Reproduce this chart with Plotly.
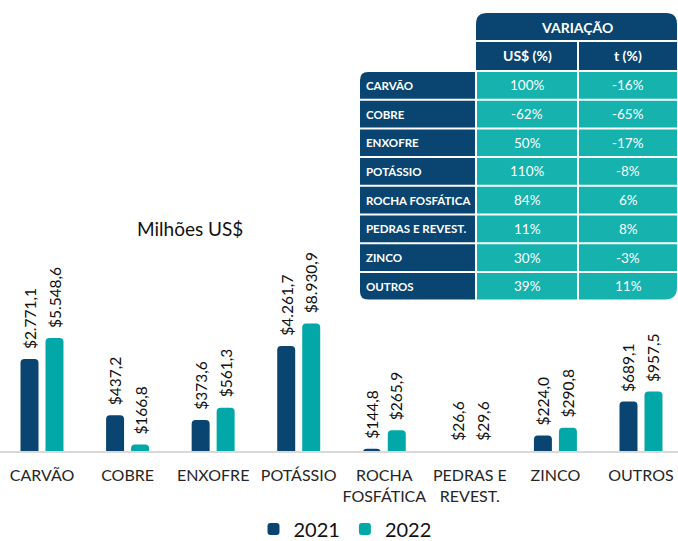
import math
import plotly.graph_objects as go

# ---------------- data ----------------
categories = ["CARVÃO", "COBRE", "ENXOFRE", "POTÁSSIO", "ROCHA<br>FOSFÁTICA",
              "PEDRAS E<br>REVEST.", "ZINCO", "OUTROS"]
values_2021 = [2771.1, 437.2, 373.6, 4261.7, 144.8, 26.6, 224.0, 689.1]
values_2022 = [5548.6, 166.8, 561.3, 8930.9, 265.9, 29.6, 290.8, 957.5]
series_names = ["2021", "2022"]

table_rows = ["CARVÃO", "COBRE", "ENXOFRE", "POTÁSSIO", "ROCHA FOSFÁTICA",
              "PEDRAS E REVEST.", "ZINCO", "OUTROS"]
table_header = "VARIAÇÃO"
table_columns = ["US$ (%)", "t (%)"]
var_usd = ["100%", "-62%", "50%", "110%", "84%", "11%", "30%", "39%"]
var_t = ["-16%", "-65%", "-17%", "-8%", "6%", "8%", "-3%", "11%"]

unit_title = "Milhões US$"

# ---------------- style ----------------
DARK = "#0a4572"
TEAL = "#02a8a8"
TEAL_TBL = "#15b2ae"
FONT = "Lato, Carlito, 'Open Sans', sans-serif"
OFF = 0                      # page body margin (removed by post_script)
W, H = 678, 541              # figure size
AXIS_Y = 451                 # axis line position in window pixels
MB = H + OFF - AXIS_Y
PLOT_H = H - MB
Y_LOW = 2.13
PX_PER_DECADE = 70.0


def fmt(v):
    s = f"{v:,.1f}"
    s = s.replace(",", "X").replace(".", ",").replace("X", ".")
    return "$" + s


fig = go.Figure()
for name, vals, col in [(series_names[0], values_2021, DARK), (series_names[1], values_2022, TEAL)]:
    fig.add_trace(go.Bar(
        x=categories, y=vals, name=name,
        marker=dict(color=col, cornerradius=4, line=dict(width=0)),
        hoverinfo="x+y",
    ))

annotations = []
for vals, shift in [(values_2021, -12.5), (values_2022, 12.5)]:
    for c, v in zip(categories, vals):
        annotations.append(dict(
            x=c, y=math.log10(max(v, 10 ** Y_LOW)), xref="x", yref="y",
            text=fmt(v), textangle=-90, showarrow=False,
            xanchor="center", yanchor="bottom", xshift=shift, yshift=8,
            font=dict(family=FONT, size=15.5, color="#111111"),
        ))


# window pixel -> paper coordinates
def PX(x):
    return (x - OFF) / W


def PY(y):
    return (AXIS_Y - y) / PLOT_H


annotations.append(dict(
    x=PX(190), y=PY(228), xref="paper", yref="paper",
    text=unit_title, showarrow=False, xanchor="center", yanchor="middle",
    font=dict(family=FONT, size=19, color="#111111"),
))


# ---------------- table (layout decoration) ----------------
def P(x, y):
    return f"{PX(x):.5f},{PY(y):.5f}"


def rr_path(x0, y0, x1, y1, tl=0, tr=0, br=0, bl=0):
    return (f"M {P(x0 + tl, y0)} L {P(x1 - tr, y0)} Q {P(x1, y0)} {P(x1, y0 + tr)} "
            f"L {P(x1, y1 - br)} Q {P(x1, y1)} {P(x1 - br, y1)} "
            f"L {P(x0 + bl, y1)} Q {P(x0, y1)} {P(x0, y1 - bl)} "
            f"L {P(x0, y0 + tl)} Q {P(x0, y0)} {P(x0 + tl, y0)} Z")


shapes = []


def cell(x0, y0, x1, y1, color, **r):
    shapes.append(dict(type="path", path=rr_path(x0, y0, x1, y1, **r),
                       xref="paper", yref="paper", fillcolor=color,
                       line=dict(width=0), layer="above"))


def text(x, y, s, size, bold=False, anchor="center"):
    annotations.append(dict(
        x=PX(x), y=PY(y), xref="paper", yref="paper",
        text=f"<b>{s}</b>" if bold else s, showarrow=False,
        xanchor=anchor, yanchor="middle",
        font=dict(family=FONT, size=size, color="white"),
    ))


LBL_L, LBL_R = 360, 475
C1_L, C1_R = 477, 577
C2_L, C2_R = 579, 677
HDR_T, HDR_B = 13, 40
SUB_T, SUB_B = 42, 70
ROW_T, ROW_H, GAP = 72, 28.7, 2

cell(C1_L - 1, HDR_T, C2_R, HDR_B, DARK, tl=11, tr=11)
text((C1_L + C2_R) / 2, (HDR_T + HDR_B) / 2 + 1, table_header, 14, bold=True)
cell(C1_L - 1, SUB_T, C1_R, SUB_B, DARK)
cell(C2_L, SUB_T, C2_R, SUB_B, DARK)
text((C1_L + C1_R) / 2, (SUB_T + SUB_B) / 2, table_columns[0], 14, bold=True)
text((C2_L + C2_R) / 2, (SUB_T + SUB_B) / 2, table_columns[1], 14, bold=True)

n = len(table_rows)
for i, (lab, u, t) in enumerate(zip(table_rows, var_usd, var_t)):
    y0 = ROW_T + i * ROW_H
    y1 = y0 + ROW_H - GAP
    first, last = i == 0, i == n - 1
    cell(LBL_L, y0, LBL_R, y1, DARK, tl=8 if first else 0, bl=8 if last else 0)
    cell(C1_L, y0, C1_R, y1, TEAL_TBL)
    cell(C2_L, y0, C2_R, y1, TEAL_TBL, br=12 if last else 0)
    ym = (y0 + y1) / 2
    text(LBL_L + 4, ym, lab, 11.5, bold=True, anchor="left")
    text((C1_L + C1_R) / 2, ym, u, 13.5)
    text((C2_L + C2_R) / 2, ym, t, 13.5)

# category i centred at window x = 42 + 85.57*i
CAT_X0, CAT_STEP = 42.0, 85.57
r0 = -(CAT_X0 - OFF) / CAT_STEP
r1 = r0 + W / CAT_STEP

fig.update_layout(
    width=W, height=H,
    margin=dict(l=0, r=0, t=0, b=MB, pad=0),
    paper_bgcolor="white", plot_bgcolor="white",
    barmode="group", bargap=0.416, bargroupgap=0.28,
    font=dict(family=FONT, color="#262626"),
    showlegend=True,
    legend=dict(orientation="h", xref="paper", x=PX(345), xanchor="center",
                yref="container", y=1 - (529 - OFF) / H, yanchor="middle",
                font=dict(family=FONT, size=20, color="#111111"),
                traceorder="normal", itemclick=False),
    xaxis=dict(range=[r0, r1], showline=True, linecolor="#d9d9d9",
               linewidth=2, showgrid=False, zeroline=False, ticks="",
               ticklabelstandoff=9, automargin=False,
               tickfont=dict(family=FONT, size=16, color="#262626")),
    yaxis=dict(type="log", range=[Y_LOW, Y_LOW + PLOT_H / PX_PER_DECADE],
               visible=False, showgrid=False, automargin=False),
    annotations=annotations,
    shapes=shapes,
)

fig.write_html("out.html", config={"displayModeBar": False},
               post_script="document.body.style.margin='0px';document.body.style.overflow='hidden';")
